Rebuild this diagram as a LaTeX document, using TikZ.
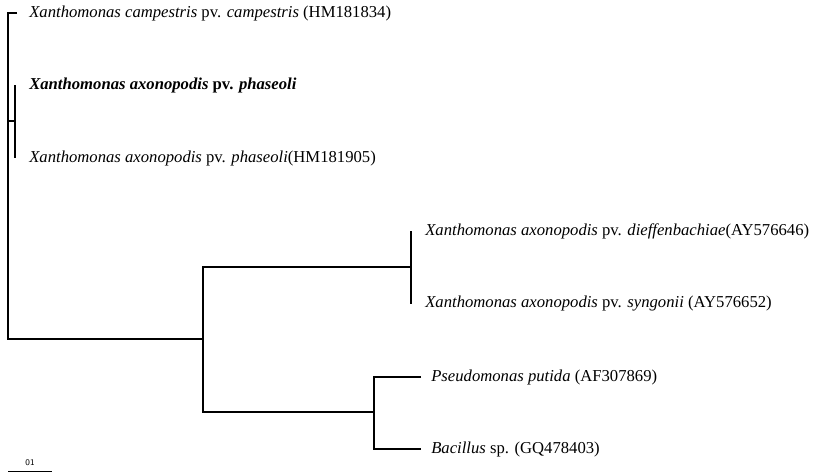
\documentclass[tikz,border=0pt]{standalone}
\usepackage{fontspec}
\setmainfont{Liberation Serif}
\usetikzlibrary{positioning}

\begin{document}
\begin{tikzpicture}[x=0.75pt, y=-0.75pt,
    branch/.style = {line width=0.9pt},
    taxon/.style = {anchor=west, inner sep=0pt, font=\fontsize{12.5}{15}\selectfont}]
  \useasboundingbox (0,0) rectangle (816,472);

  % inner nodes of the tree
  \coordinate (n0) at (8,339);
  \coordinate (n1) at (15,121);
  \coordinate (n2) at (203,339);
  \coordinate (n3) at (411,267);
  \coordinate (n4) at (374,412);

  % leaf tips
  \coordinate (t1) at (17,13);
  \coordinate (t2) at (15,85);
  \coordinate (t3) at (15,158);
  \coordinate (t4) at (411,231);
  \coordinate (t5) at (411,304);
  \coordinate (t6) at (421,377);
  \coordinate (t7) at (421,449);

  \node[taxon, right=9pt of t1] (xcc) {\textit{Xanthomonas campestris} pv. \textit{campestris} (HM181834)};
  \node[taxon, right=10.5pt of t2] (xap) {\textbf{\textit{Xanthomonas axonopodis} pv. \textit{phaseoli}}};
  \node[taxon, right=10.5pt of t3] (xaph) {\textit{Xanthomonas axonopodis} pv. \textit{phaseoli}(HM181905)};
  \node[taxon, right=10.5pt of t4] (xad) {\textit{Xanthomonas axonopodis} pv. \textit{dieffenbachiae}(AY576646)};
  \node[taxon, right=10.5pt of t5] (xas) {\textit{Xanthomonas axonopodis} pv. \textit{syngonii} (AY576652)};
  \node[taxon, right=7.5pt of t6] (pp) {\textit{Pseudomonas putida} (AF307869)};
  \node[taxon, right=7.5pt of t7] (bs) {\textit{Bacillus} sp. (GQ478403)};

  \draw[branch] (t1) -| (n0) -- (n2);
  \draw[branch] (n0 |- n1) -- (n1);
  \draw[branch] (t2) -- (t3);
  \draw[branch] (n3) -| (n2) |- (n4);
  \draw[branch] (t4) -- (t5);
  \draw[branch] (t6) -| (n4) |- (t7);

  % scale bar
  \coordinate (s0) at (8,471);
  \coordinate (s1) at (52,471);
  \draw[line width=0.6pt] (s0) -- node[above=4pt, inner sep=0pt, font=\fontsize{6.5}{7}\sffamily] (sc) {01} (s1);
\end{tikzpicture}
\end{document}
